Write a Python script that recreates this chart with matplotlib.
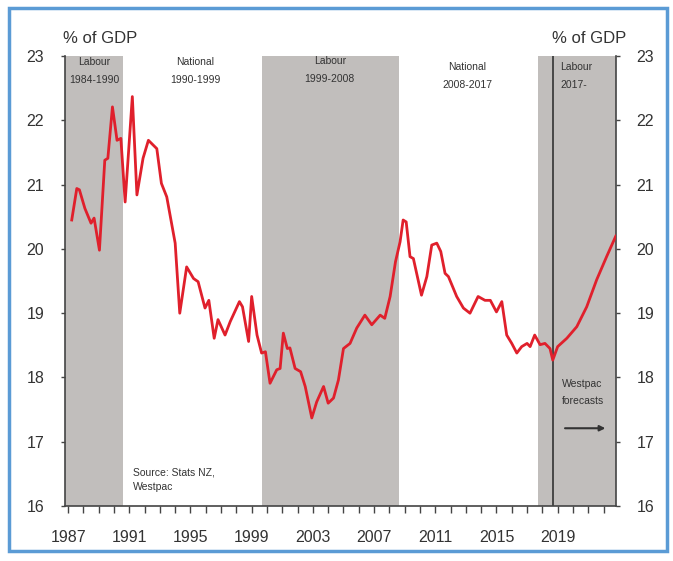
import matplotlib.pyplot as plt
from matplotlib.patches import Rectangle

plt.rcParams['font.family'] = ['Liberation Sans', 'DejaVu Sans']

# Core Crown expenses, % of GDP (traced points, decimal years)
years = [1987.24, 1987.57, 1987.74, 1988.1, 1988.5, 1988.7, 1989.05, 1989.4, 1989.6,
         1989.9, 1990.2, 1990.45, 1990.73, 1991.2, 1991.5, 1991.9, 1992.25, 1992.8,
         1993.1, 1993.45, 1994.0, 1994.3, 1994.75, 1995.2, 1995.5, 1995.95, 1996.2,
         1996.55, 1996.8, 1997.26, 1997.6, 1998.2, 1998.4, 1998.8, 1999.0, 1999.35,
         1999.65, 1999.9, 2000.2, 2000.64, 2000.86, 2001.07, 2001.33, 2001.5, 2001.84,
         2002.2, 2002.5, 2002.93, 2003.25, 2003.7, 2004.0, 2004.35, 2004.67, 2005.0,
         2005.43, 2005.87, 2006.4, 2006.85, 2007.4, 2007.7, 2008.05, 2008.4, 2008.7,
         2008.9, 2009.1, 2009.35, 2009.57, 2010.1, 2010.45, 2010.77, 2011.1, 2011.36,
         2011.64, 2011.86, 2012.4, 2012.84, 2013.27, 2013.8, 2014.25, 2014.6, 2015.0,
         2015.35, 2015.67, 2016.0, 2016.33, 2016.65, 2017.0, 2017.2, 2017.5, 2017.85,
         2018.17, 2018.5, 2018.68, 2019.0, 2019.6, 2020.25, 2020.9, 2021.55, 2022.2,
         2022.8]
spending = [20.45, 20.94, 20.92, 20.63, 20.40, 20.48, 19.98, 21.38, 21.41,
            22.21, 21.69, 21.72, 20.73, 22.37, 20.84, 21.41, 21.69, 21.56,
            21.02, 20.81, 20.09, 19.00, 19.72, 19.54, 19.49, 19.08, 19.20,
            18.61, 18.90, 18.66, 18.87, 19.18, 19.10, 18.56, 19.26, 18.66,
            18.38, 18.40, 17.91, 18.12, 18.14, 18.69, 18.45, 18.46, 18.14,
            18.09, 17.86, 17.37, 17.62, 17.86, 17.60, 17.68, 17.96, 18.45,
            18.53, 18.77, 18.97, 18.82, 18.97, 18.92, 19.26, 19.80, 20.11,
            20.45, 20.42, 19.88, 19.85, 19.28, 19.57, 20.06, 20.09, 19.96,
            19.62, 19.57, 19.26, 19.08, 19.00, 19.26, 19.20, 19.20, 19.02,
            19.18, 18.66, 18.53, 18.38, 18.48, 18.53, 18.48, 18.66, 18.51,
            18.53, 18.45, 18.27, 18.48, 18.61, 18.79, 19.10, 19.52, 19.88,
            20.20]

# Governments: (start, end, label, shaded)
govt_start = [1986.8, 1990.6, 1999.7, 2008.6, 2017.7]
govt_end = [1990.6, 1999.7, 2008.6, 2017.7, 2022.8]
govt_labels = ['Labour\n1984-1990', 'National\n1990-1999', 'Labour\n1999-2008',
               'National\n2008-2017', 'Labour\n2017-']
govt_shaded = [True, False, True, False, True]

forecast_start = 2018.7
tick_years = [1987, 1991, 1995, 1999, 2003, 2007, 2011, 2015, 2019]

fig = plt.figure(figsize=(6.73, 5.61), dpi=100)
ax = fig.add_axes([0.0966, 0.098, 0.8184, 0.802])

grey = '#c1bebc'
for s, e, lab, sh in zip(govt_start, govt_end, govt_labels, govt_shaded):
    if sh:
        ax.axvspan(s, e, color=grey, lw=0, zorder=0)

# government labels
lab_kw = dict(va='top', fontsize=7.5, color='#333333', linespacing=2.0)
ax.text(1988.7, 22.99, govt_labels[0], ha='center', **lab_kw)
ax.text(1995.3, 22.99, govt_labels[1], ha='center', **lab_kw)
ax.text(2004.1, 23.0, govt_labels[2], ha='center', **lab_kw)
ax.text(2013.1, 22.91, govt_labels[3], ha='center', **lab_kw)
ax.text(2019.15, 22.91, govt_labels[4], ha='left', **lab_kw)

ax.plot(years, spending, color='#e0202c', lw=2, zorder=3)

# forecast marker
ax.axvline(forecast_start, color='#333333', lw=1.2, zorder=2)
ax.text(2019.3, 17.97, 'Westpac\nforecasts', ha='left', va='top', fontsize=7.5,
        color='#333333', linespacing=1.8)
ax.annotate('', xy=(2022.3, 17.21), xytext=(2019.3, 17.21),
            arrowprops=dict(arrowstyle='-|>', color='#333333', lw=1.5, mutation_scale=8))

ax.text(1991.25, 16.6, 'Source: Stats NZ,\nWestpac', ha='left', va='top', fontsize=7.5,
        color='#333333', linespacing=1.6)

ax.set_xlim(govt_start[0], govt_end[-1])
ax.set_ylim(16, 23)
ax.set_xticks(tick_years)
ax.set_xticks(range(1987, 2023), minor=True)
ax.set_yticks(range(16, 24))

ax.spines['top'].set_visible(False)
for sp in ['left', 'right', 'bottom']:
    ax.spines[sp].set_color('#444444')
    ax.spines[sp].set_linewidth(1.2)

ax.tick_params(axis='x', which='both', direction='out', length=5, width=1, color='#444444',
               labelsize=11.5, labelcolor='#333333', pad=12)
ax.tick_params(axis='y', which='both', direction='out', length=3, width=1, color='#444444',
               labelsize=11.5, labelcolor='#333333', left=True, right=True,
               labelleft=True, labelright=True, pad=12)

fig.text(0.094, 0.932, '% of GDP', fontsize=12, color='#333333', ha='left', va='center')
fig.text(0.93, 0.932, '% of GDP', fontsize=12, color='#333333', ha='right', va='center')

# blue frame around the figure
fig.patches.append(Rectangle((0.013, 0.018), 0.978, 0.968, transform=fig.transFigure,
                             fill=False, edgecolor='#5b9bd5', lw=2.5))

fig.savefig('out.png', dpi=100)
